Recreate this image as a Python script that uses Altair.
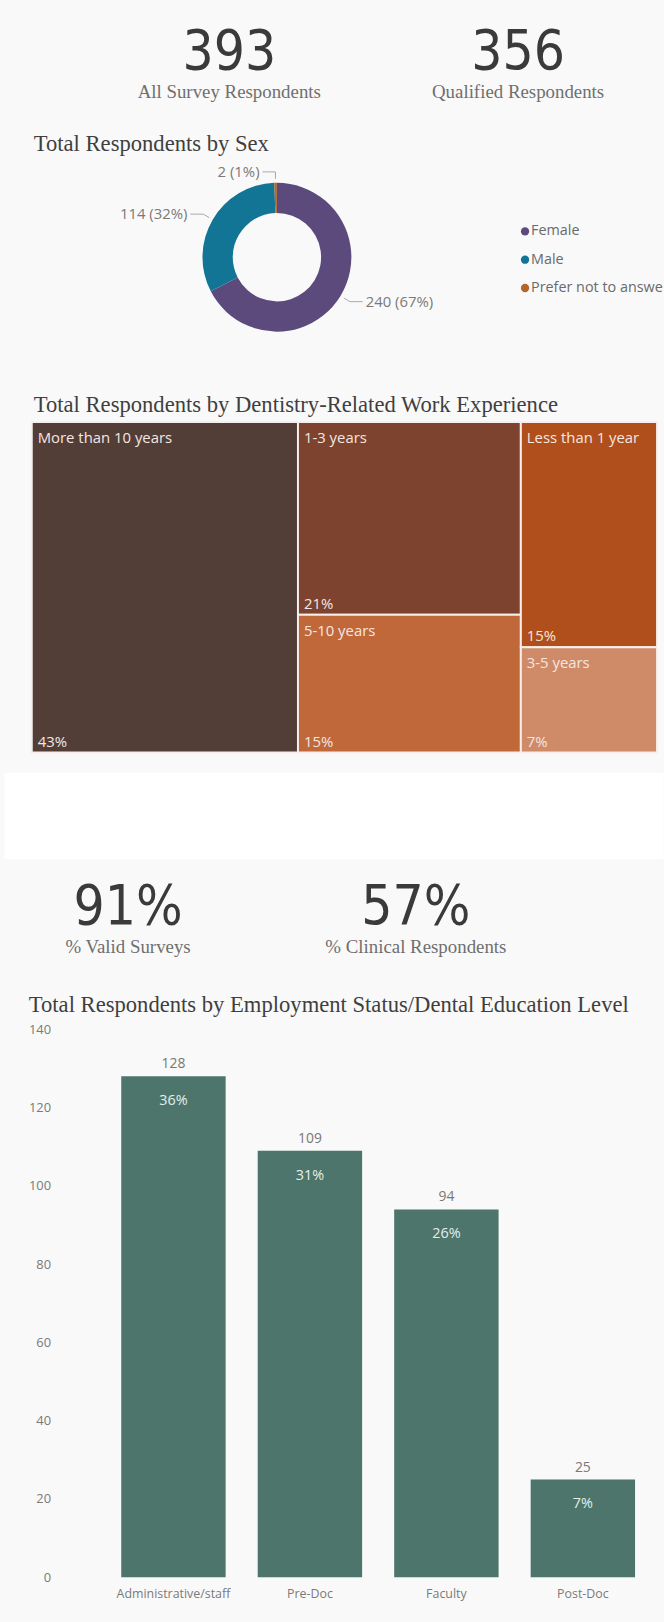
import altair as alt
import pandas as pd

# ---- summary cards ----
summary_top_values = ["393", "356"]
summary_top_labels = ["All Survey Respondents", "Qualified Respondents"]
summary_bottom_values = ["91%", "57%"]
summary_bottom_labels = ["% Valid Surveys", "% Clinical Respondents"]

# ---- respondents by sex ----
sex_categories = ["Female", "Male", "Prefer not to answer"]
sex_counts = [240, 114, 2]

# ---- dentistry-related work experience (share of respondents, %) ----
experience_categories = ["More than 10 years", "1-3 years", "5-10 years",
                         "Less than 1 year", "3-5 years"]
experience_percent = [43, 21, 15, 15, 7]

# ---- employment status / dental education level ----
employment_categories = ["Administrative/staff", "Pre-Doc", "Faculty", "Post-Doc"]
employment_counts = [128, 109, 94, 25]

# ---- titles ----
title_sex = "Total Respondents by Sex"
title_experience = "Total Respondents by Dentistry-Related Work Experience"
title_employment = "Total Respondents by Employment Status/Dental Education Level"

# ---- styling ----
sex_colors = ["#5c4a7c", "#127596", "#b3652c"]
experience_colors = ["#533d37", "#7e432e", "#c1683b", "#b04f1b", "#cf8a68"]
BAR_COLOR = "#4d756b"
PANEL = "#f9f9f9"
DIGITS = "Liberation Sans Narrow, DejaVu Sans Condensed, Roboto"
SERIF = "Liberation Serif"
SANS = "Open Sans"
W = 664
TITLE_SIZE = 22.8


def title_layer(text, x, y):
    return alt.Chart(pd.DataFrame({"t": [text]})).mark_text(
        font=SERIF, fontSize=TITLE_SIZE, color="#3f3f3f", align="left", baseline="alphabetic"
    ).encode(x=alt.value(x), y=alt.value(y), text="t:N")


def cards(values, labels, centers, value_y, label_y, height):
    df = pd.DataFrame({"value": values, "label": labels})
    xenc = alt.X("label:N", scale=alt.Scale(type="point", domain=labels, range=centers, padding=0),
                 axis=None)
    base = alt.Chart(df)
    big = base.mark_text(font=DIGITS, fontSize=55, color="#3a3a3a", baseline="alphabetic").encode(
        x=xenc, y=alt.value(value_y), text="value:N")
    small = base.mark_text(font=SERIF, fontSize=19, color="#6f6f6f", baseline="alphabetic").encode(
        x=xenc, y=alt.value(label_y), text="label:N")
    return alt.layer(big, small).properties(width=W, height=height)


# ---------- summary cards (top) ----------
cards_top = cards(summary_top_values, summary_top_labels, [227, 518], 62, 92, 112)

# ---------- donut: respondents by sex ----------
CX, CY = 275, 138
sex_df = pd.DataFrame({"sex": sex_categories, "count": sex_counts})
donut_base = alt.Chart(sex_df).transform_window(
    cum="sum(count)"
).transform_joinaggregate(
    total="sum(count)"
).transform_calculate(
    a0="(datum.cum - datum.count) / datum.total * 2 * PI",
    a1="datum.cum / datum.total * 2 * PI",
    mid="(datum.cum - datum.count / 2) / datum.total * 2 * PI",
).transform_calculate(
    side="sin(datum.mid) >= 0 ? 1 : -1",
    sx=f"{CX} + 79 * sin(datum.mid)",
    sy=f"{CY} - 79 * cos(datum.mid)",
    ex=f"{CX} + 86 * sin(datum.mid)",
    ey=f"{CY} - 86 * cos(datum.mid)",
    label="datum.count + ' (' + format(datum.count / datum.total, '.0%') + ')'",
).transform_calculate(
    hx="datum.ex + datum.side * 13",
    tx="datum.ex + datum.side * 16",
)

sex_color = alt.Color("sex:N", scale=alt.Scale(domain=sex_categories, range=sex_colors), legend=None)

arcs = donut_base.mark_arc(outerRadius=75, innerRadius=44.5).encode(
    theta=alt.Theta("a0:Q", scale=None),
    theta2="a1:Q",
    color=sex_color,
    x=alt.value(CX), y=alt.value(CY),
)
lead_a = donut_base.mark_rule(color="#a8a8a8", strokeWidth=1).encode(
    x=alt.X("sx:Q", scale=None), y=alt.Y("sy:Q", scale=None), x2="ex:Q", y2="ey:Q")
lead_b = donut_base.mark_rule(color="#a8a8a8", strokeWidth=1).encode(
    x=alt.X("ex:Q", scale=None), y=alt.Y("ey:Q", scale=None), x2="hx:Q", y2="ey:Q")
lab_right = donut_base.transform_filter("datum.side > 0").mark_text(
    font=SANS, fontSize=15, color="#7a7a7a", align="left", baseline="middle").encode(
    x=alt.X("tx:Q", scale=None), y=alt.Y("ey:Q", scale=None), text="label:N")
lab_left = donut_base.transform_filter("datum.side < 0").mark_text(
    font=SANS, fontSize=15, color="#7a7a7a", align="right", baseline="middle").encode(
    x=alt.X("tx:Q", scale=None), y=alt.Y("ey:Q", scale=None), text="label:N")

legend_y = alt.Y("sex:N", scale=alt.Scale(type="point", domain=sex_categories, range=[112, 169], padding=0),
                 axis=None)
legend_dots = alt.Chart(sex_df).mark_point(filled=True, shape="circle", size=70, opacity=1).encode(
    x=alt.value(525), y=legend_y, color=sex_color)
legend_text = alt.Chart(sex_df).mark_text(
    font=SANS, fontSize=14.5, color="#6a6a6a", align="left", baseline="middle", clip=True).encode(
    x=alt.value(531), y=legend_y, text="sex:N")

donut_panel = alt.layer(
    title_layer(title_sex, 30, 31), arcs, lead_a, lead_b, lab_right, lab_left, legend_dots, legend_text
).resolve_scale(y="independent").properties(width=W, height=258)


# ---------- treemap: work experience ----------
def squarify(values, x, y, w, h):
    """Squarified treemap layout; values must be sorted in descending order."""
    total = float(sum(values))
    areas = [v / total * w * h for v in values]
    rects = []

    def worst(row, side):
        s = sum(row)
        return max(max(s * s / (side * side * r), side * side * r / (s * s)) for r in row)

    i = 0
    while i < len(areas):
        side = min(w, h)
        row = [areas[i]]
        j = i + 1
        while j < len(areas) and worst(row + [areas[j]], side) <= worst(row, side):
            row.append(areas[j])
            j += 1
        s = sum(row)
        if w >= h:
            cw = s / h
            yy = y
            for a in row:
                rh = a / cw
                rects.append((x, yy, x + cw, yy + rh))
                yy += rh
            x += cw
            w -= cw
        else:
            rh = s / w
            xx = x
            for a in row:
                cw = a / rh
                rects.append((xx, y, xx + cw, y + rh))
                xx += cw
            y += rh
            h -= rh
        i = j
    return rects


TREE_X0, TREE_X1 = 28, 658
TREE_Y0, TREE_Y1 = 44, 377
tree_w, tree_h = TREE_X1 - TREE_X0, TREE_Y1 - TREE_Y0
order = sorted(range(len(experience_percent)), key=lambda k: -experience_percent[k])
tiles = squarify([experience_percent[k] for k in order], 0, 0, tree_w, tree_h)
tree_df = pd.DataFrame({
    "category": [experience_categories[k] for k in order],
    "pct": [experience_percent[k] for k in order],
    "x0": [t[0] for t in tiles], "y0": [t[1] for t in tiles],
    "x1": [t[2] for t in tiles], "y1": [t[3] for t in tiles],
})
tx = alt.Scale(domain=[0, tree_w], range=[TREE_X0, TREE_X1])
ty = alt.Scale(domain=[0, tree_h], range=[TREE_Y0, TREE_Y1])
tree_base = alt.Chart(tree_df).transform_calculate(pct_label="datum.pct + '%'")
cells = tree_base.mark_rect(stroke="#f6efeb", strokeWidth=2).encode(
    x=alt.X("x0:Q", scale=tx, axis=None), x2="x1:Q",
    y=alt.Y("y0:Q", scale=ty, axis=None), y2="y1:Q",
    color=alt.Color("category:N", scale=alt.Scale(domain=experience_categories, range=experience_colors),
                    legend=None),
)
names = tree_base.mark_text(font=SANS, fontSize=15, color="#f3e7e0", align="left",
                            baseline="alphabetic", dx=6, dy=21).encode(
    x=alt.X("x0:Q", scale=tx, axis=None), y=alt.Y("y0:Q", scale=ty, axis=None), text="category:N")
pcts = tree_base.mark_text(font=SANS, fontSize=15, color="#f3e7e0", align="left",
                           baseline="alphabetic", dx=6, dy=-6).encode(
    x=alt.X("x0:Q", scale=tx, axis=None), y=alt.Y("y1:Q", scale=ty, axis=None), text="pct_label:N")
tree_panel = alt.layer(
    title_layer(title_experience, 30, 34), cells, names, pcts
).properties(width=W, height=392)

# ---------- white gap between the two panels ----------
gap = alt.Chart(pd.DataFrame({"g": [0]})).mark_point(opacity=0).encode(
    x=alt.value(0), y=alt.value(0)
).properties(width=W, height=87, view=alt.ViewBackground(fill="#ffffff", stroke="transparent"))

# ---------- summary cards (bottom) ----------
cards_bottom = cards(summary_bottom_values, summary_bottom_labels, [125, 415], 64, 93, 118)

# ---------- bar chart: employment status ----------
emp_df = pd.DataFrame({"status": employment_categories, "count": employment_counts})
bar_base = alt.Chart(emp_df).transform_joinaggregate(total="sum(count)").transform_calculate(
    share="format(datum.count / datum.total, '.0%')")
bx = alt.X("status:N", sort=employment_categories,
           scale=alt.Scale(range=[102, 652], paddingInner=0.235, paddingOuter=0.1175),
           axis=alt.Axis(title=None, labelAngle=0, ticks=False, domain=False, labelPadding=10,
                         offset=-53, labelFont=SANS, labelFontSize=12.5, labelColor="#7a7a7a",
                         zindex=1))
by = alt.Y("count:Q", scale=alt.Scale(domain=[0, 140], range=[602, 50]),
           axis=alt.Axis(title=None, values=[0, 20, 40, 60, 80, 100, 120, 140], grid=False,
                         ticks=False, domain=False, labelPadding=0, tickSize=0, offset=-47,
                         labelFont=SANS, labelFontSize=13, labelColor="#7a7a7a", zindex=1))
bars = bar_base.mark_bar(color=BAR_COLOR).encode(x=bx, y=by)
above = bar_base.mark_text(font=SANS, fontSize=14, color="#777777", baseline="alphabetic",
                           dy=-8).encode(x=bx, y=by, text="count:Q")
inside = bar_base.mark_text(font=SANS, fontSize=14.5, color="#e4eeea", baseline="middle",
                            dy=25).encode(x=bx, y=by, text="share:N")
bar_panel = alt.layer(
    title_layer(title_employment, 25, 32), bars, above, inside
).properties(width=W, height=655)

chart = alt.vconcat(
    cards_top, donut_panel, tree_panel, gap, cards_bottom, bar_panel, spacing=0
).resolve_scale(
    color="independent"
).properties(
    padding=0,
    background=PANEL,
).configure_view(stroke="transparent")

chart.save("out.html", embed_options={"renderer": "svg", "actions": False})
